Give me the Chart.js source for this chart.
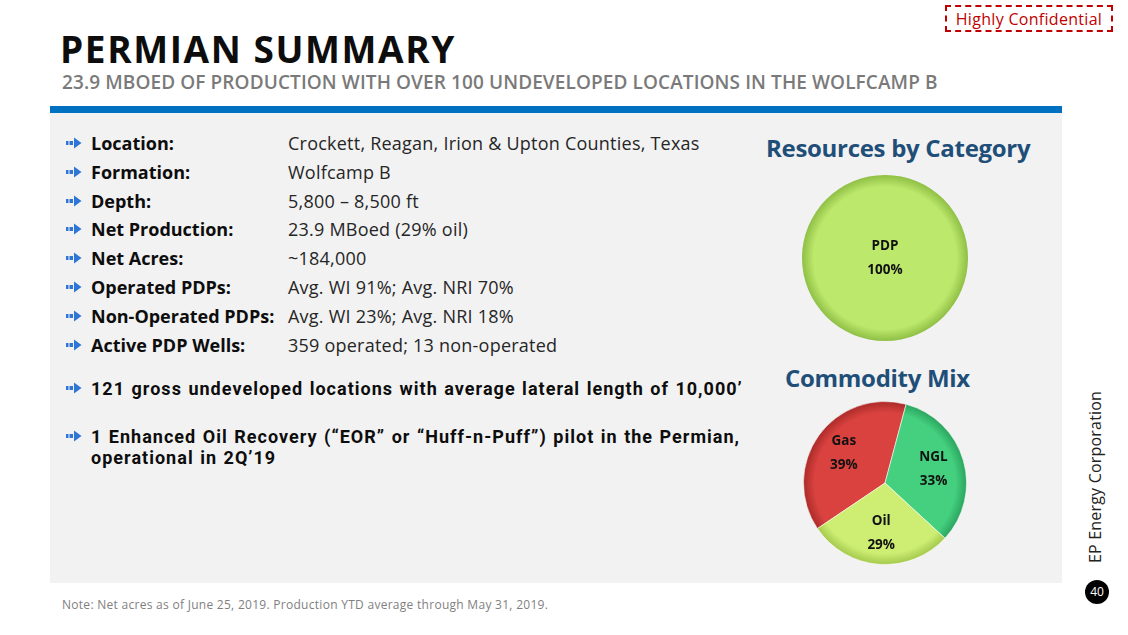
<!DOCTYPE html>
<html>
<head>
<meta charset="utf-8">
<script src="https://cdn.jsdelivr.net/npm/chart.js@4/dist/chart.umd.min.js"></script>
<style>
  body { margin: 0; width: 1128px; height: 635px; background: #fff; position: relative; overflow: hidden; font-family: "Open Sans", sans-serif; color: #111; }
  .abs { position: absolute; white-space: nowrap; }
  #title { left: 60px; top: 26px; font-size: 37px; font-weight: 700; line-height: 46px; letter-spacing: 1.6px; color: #0d0d0d; }
  #subtitle { left: 62px; top: 70px; font-size: 19px; font-weight: 600; line-height: 24px; letter-spacing: 0.1px; color: #7a7a7a; }
  #conf { left: 945px; top: 5px; width: 168px; height: 27px; border: 2px dashed #c00000; color: #c00000; font-size: 16px; line-height: 24px; text-align: center; box-sizing: border-box; letter-spacing: 0.3px; }
  #bar { left: 50px; top: 106px; width: 1012px; height: 7px; background: #0070c0; }
  #panel { left: 50px; top: 113px; width: 1012px; height: 470px; background: #f2f2f2; }
  .row { position: absolute; left: 66px; height: 24px; line-height: 24px; font-size: 18px; white-space: nowrap; }
  .row svg { position: absolute; left: 0; top: 6px; }
  .row .lab { position: absolute; left: 25px; font-weight: 700; color: #0d0d0d; }
  .row .val { position: absolute; left: 222px; color: #262626; letter-spacing: 0.23px; }
  .big { position: absolute; left: 91px; font-family: Roboto, sans-serif; font-size: 18px; font-weight: 700; line-height: 20px; height: 20px; color: #0d0d0d; white-space: nowrap; letter-spacing: 1.02px; word-spacing: 1px; }
  .ptitle { position: absolute; font-size: 24px; font-weight: 700; color: #1f4e79; white-space: nowrap; line-height: 30px; letter-spacing: -0.3px; }
  #side { left: 1095px; top: 477px; transform: translate(-50%, -50%) rotate(-90deg); font-size: 16px; color: #222; letter-spacing: 0.2px; }
  #page { left: 1085px; top: 580px; width: 24px; height: 24px; border-radius: 50%; background: #000; color: #fff; font-size: 12px; line-height: 24px; text-align: center; }
  #note { left: 62px; top: 596px; font-size: 12px; color: #7f7f7f; letter-spacing: 0.28px; }
  canvas { position: absolute; }
</style>
</head>
<body>
<div class="abs" id="title">PERMIAN SUMMARY</div>
<div class="abs" id="subtitle">23.9 MBOED OF PRODUCTION WITH OVER 100 UNDEVELOPED LOCATIONS IN THE WOLFCAMP B</div>
<div class="abs" id="conf">Highly Confidential</div>
<div class="abs" id="bar"></div>
<div class="abs" id="panel"></div>
<div id="rows"></div>
<div class="ptitle" style="left:766px;top:133px">Resources by Category</div>
<div class="ptitle" style="left:785px;top:363px">Commodity Mix</div>
<canvas id="resourcesChart" width="166" height="166" style="left:802px;top:175px"></canvas>
<canvas id="commodityChart" width="164" height="164" style="left:803px;top:401px"></canvas>
<div class="abs" id="side">EP Energy Corporation</div>
<div class="abs" id="page">40</div>
<div class="abs" id="note">Note: Net acres as of June 25, 2019. Production YTD average through May 31, 2019.</div>

<script>
const factLabels = ["Location:", "Formation:", "Depth:", "Net Production:", "Net Acres:", "Operated PDPs:", "Non-Operated PDPs:", "Active PDP Wells:"];
const factValues = ["Crockett, Reagan, Irion & Upton Counties, Texas", "Wolfcamp B", "5,800 \u2013 8,500 ft", "23.9 MBoed (29% oil)", "~184,000", "Avg. WI 91%; Avg. NRI 70%", "Avg. WI 23%; Avg. NRI 18%", "359 operated; 13 non-operated"];
const extraBullets = [
  ["121 gross undeveloped locations with average lateral length of 10,000\u2019"],
  ["1 Enhanced Oil Recovery (\u201cEOR\u201d or \u201cHuff-n-Puff\u201d) pilot in the Permian,", "operational in 2Q\u201919"]
];

const resourceLabels = ["PDP"];
const resourceValues = [100];
const commodityLabels = ["Gas", "NGL", "Oil"];
const commodityValues = [39, 33, 29];

(() => {
  const arrow = '<svg width="16" height="12" viewBox="0 0 16 12"><rect x="0" y="4" width="2.5" height="4" fill="#2e75d6"/><rect x="3.5" y="4" width="3.5" height="4" fill="#2e75d6"/><polygon points="8,0.5 15.5,6 8,11.5" fill="#2e75d6"/></svg>';
  const rows = document.getElementById("rows");
  let html = "";
  factLabels.forEach((label, i) => {
    const top = 131 + i * 28.8;
    html += `<div class="row" style="top:${top}px">${arrow}<span class="lab">${label}</span><span class="val">${factValues[i]}</span></div>`;
  });
  const bigTops = [379, 427];
  extraBullets.forEach((lines, i) => {
    html += `<div class="row" style="top:${bigTops[i] - 3}px">${arrow}</div>`;
    lines.forEach((line, j) => {
      html += `<div class="big" style="top:${bigTops[i] + j * 21}px">${line}</div>`;
    });
  });
  rows.innerHTML = html;
})();

(() => {
  if (typeof Chart === "undefined") {
    return;
  }

  // radial shading gives the slides' bevelled look
  const shade = (bases, darks) => (c) => {
    const i = c.dataIndex ?? 0;
    const chart = c.chart;
    const area = chart.chartArea;
    if (!area) {
      return bases[i];
    }
    const cx = (area.left + area.right) / 2;
    const cy = (area.top + area.bottom) / 2;
    const r = Math.min(area.right - area.left, area.bottom - area.top) / 2;
    const g = chart.ctx.createRadialGradient(cx, cy, 0, cx, cy, r);
    g.addColorStop(0, bases[i]);
    g.addColorStop(0.86, bases[i]);
    g.addColorStop(1, darks[i]);
    return g;
  };

  const sliceLabels = {
    id: "sliceLabels",
    afterDatasetsDraw(chart) {
      const ctx = chart.ctx;
      const meta = chart.getDatasetMeta(0);
      const values = chart.data.datasets[0].data;
      ctx.save();
      ctx.font = "bold 13.5px 'Open Sans'";
      ctx.fillStyle = "#111";
      ctx.textAlign = "center";
      ctx.textBaseline = "middle";
      meta.data.forEach((arc, i) => {
        const p = arc.getProps(["x", "y", "startAngle", "endAngle", "outerRadius"], true);
        let lx = p.x;
        let ly = p.y;
        if (p.endAngle - p.startAngle < Math.PI * 2 - 0.01) {
          const mid = (p.startAngle + p.endAngle) / 2;
          lx = p.x + Math.cos(mid) * p.outerRadius * 0.62;
          ly = p.y + Math.sin(mid) * p.outerRadius * 0.62;
        }
        ctx.fillText(chart.data.labels[i], lx, ly - 12);
        ctx.fillText(values[i] + "%", lx, ly + 12);
      });
      ctx.restore();
    }
  };

  const baseOptions = (rotation) => ({
    responsive: false,
    animation: false,
    rotation,
    layout: { padding: 0 },
    plugins: { legend: { display: false }, tooltip: { enabled: false } }
  });

  new Chart(document.getElementById("resourcesChart"), {
    type: "pie",
    data: {
      labels: resourceLabels,
      datasets: [{
        data: resourceValues,
        backgroundColor: shade(["#bce86c"], ["#8fbf45"]),
        borderWidth: 0
      }]
    },
    options: baseOptions(0),
    plugins: [sliceLabels]
  });

  new Chart(document.getElementById("commodityChart"), {
    type: "pie",
    data: {
      labels: commodityLabels,
      datasets: [{
        data: commodityValues,
        backgroundColor: shade(["#d9423f", "#44d07f", "#cdee72"], ["#a82a28", "#2aa35d", "#a3c84c"]),
        borderColor: "rgba(255,255,255,0.55)",
        borderWidth: 1
      }]
    },
    options: baseOptions(236),
    plugins: [sliceLabels]
  });
})();
</script>
</body>
</html>
